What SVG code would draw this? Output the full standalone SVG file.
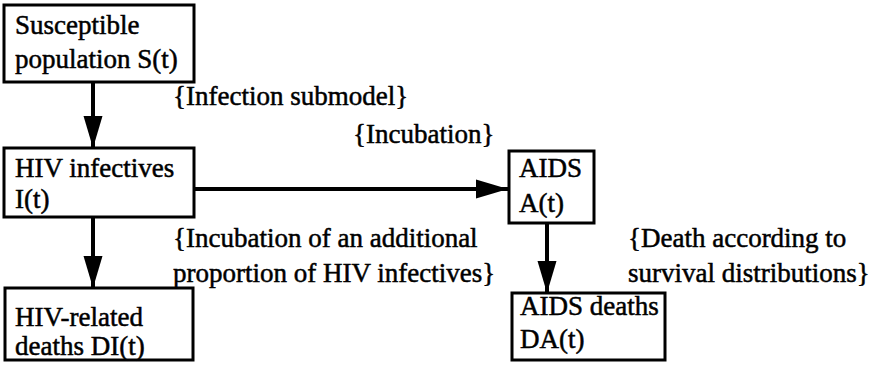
<svg xmlns="http://www.w3.org/2000/svg" width="875" height="365" viewBox="0 0 875 365">
<style>
.box{fill:#fff;stroke:#000;stroke-width:3}
.t{font-family:"Liberation Serif","Times New Roman",serif;font-size:27px;fill:#000;stroke:#000;stroke-width:0.5}
.c{stroke:#000;stroke-width:4;fill:none}
</style>
<defs>
<marker id="ah" markerUnits="userSpaceOnUse" markerWidth="32" markerHeight="19" refX="32" refY="9.5" orient="auto" overflow="visible">
<path d="M0,0 L32,9.5 L0,19 Z" fill="#000"/>
</marker>
</defs>
<rect width="875" height="365" fill="#fff"/>
<g id="connectors">
<line class="c" x1="93" y1="82" x2="93" y2="148" marker-end="url(#ah)"/>
<line class="c" x1="93" y1="217" x2="93" y2="288" marker-end="url(#ah)"/>
<line class="c" x1="195" y1="189" x2="508" y2="189" marker-end="url(#ah)"/>
<line class="c" x1="547" y1="223" x2="547" y2="293" marker-end="url(#ah)"/>
</g>
<g id="labels">
<text class="t" x="173" y="105">{Infection submodel}</text>
<text class="t" x="353" y="143">{Incubation}</text>
<text class="t" x="173" y="247">{Incubation of an additional</text>
<text class="t" x="173" y="282">proportion of HIV infectives}</text>
<text class="t" x="628" y="247">{Death according to</text>
<text class="t" x="628" y="282">survival distributions}</text>
</g>
<g id="susceptible">
<rect class="box" x="4" y="5" width="190" height="77"/>
<text class="t" x="15" y="34">Susceptible</text>
<text class="t" x="15" y="68">population S(t)</text>
</g>
<g id="hiv">
<rect class="box" x="4" y="148" width="190" height="69"/>
<text class="t" x="15" y="177">HIV infectives</text>
<text class="t" x="15" y="208">I(t)</text>
</g>
<g id="hivdeaths">
<rect class="box" x="5" y="288" width="188" height="72"/>
<text class="t" x="15" y="326">HIV-related</text>
<text class="t" x="15" y="355">deaths DI(t)</text>
</g>
<g id="aids">
<rect class="box" x="509" y="151" width="85" height="72"/>
<text class="t" x="519" y="177">AIDS</text>
<text class="t" x="519" y="212">A(t)</text>
</g>
<g id="aidsdeaths">
<rect class="box" x="512" y="293" width="153" height="67"/>
<text class="t" x="520" y="315">AIDS deaths</text>
<text class="t" x="520" y="348">DA(t)</text>
</g>
</svg>
